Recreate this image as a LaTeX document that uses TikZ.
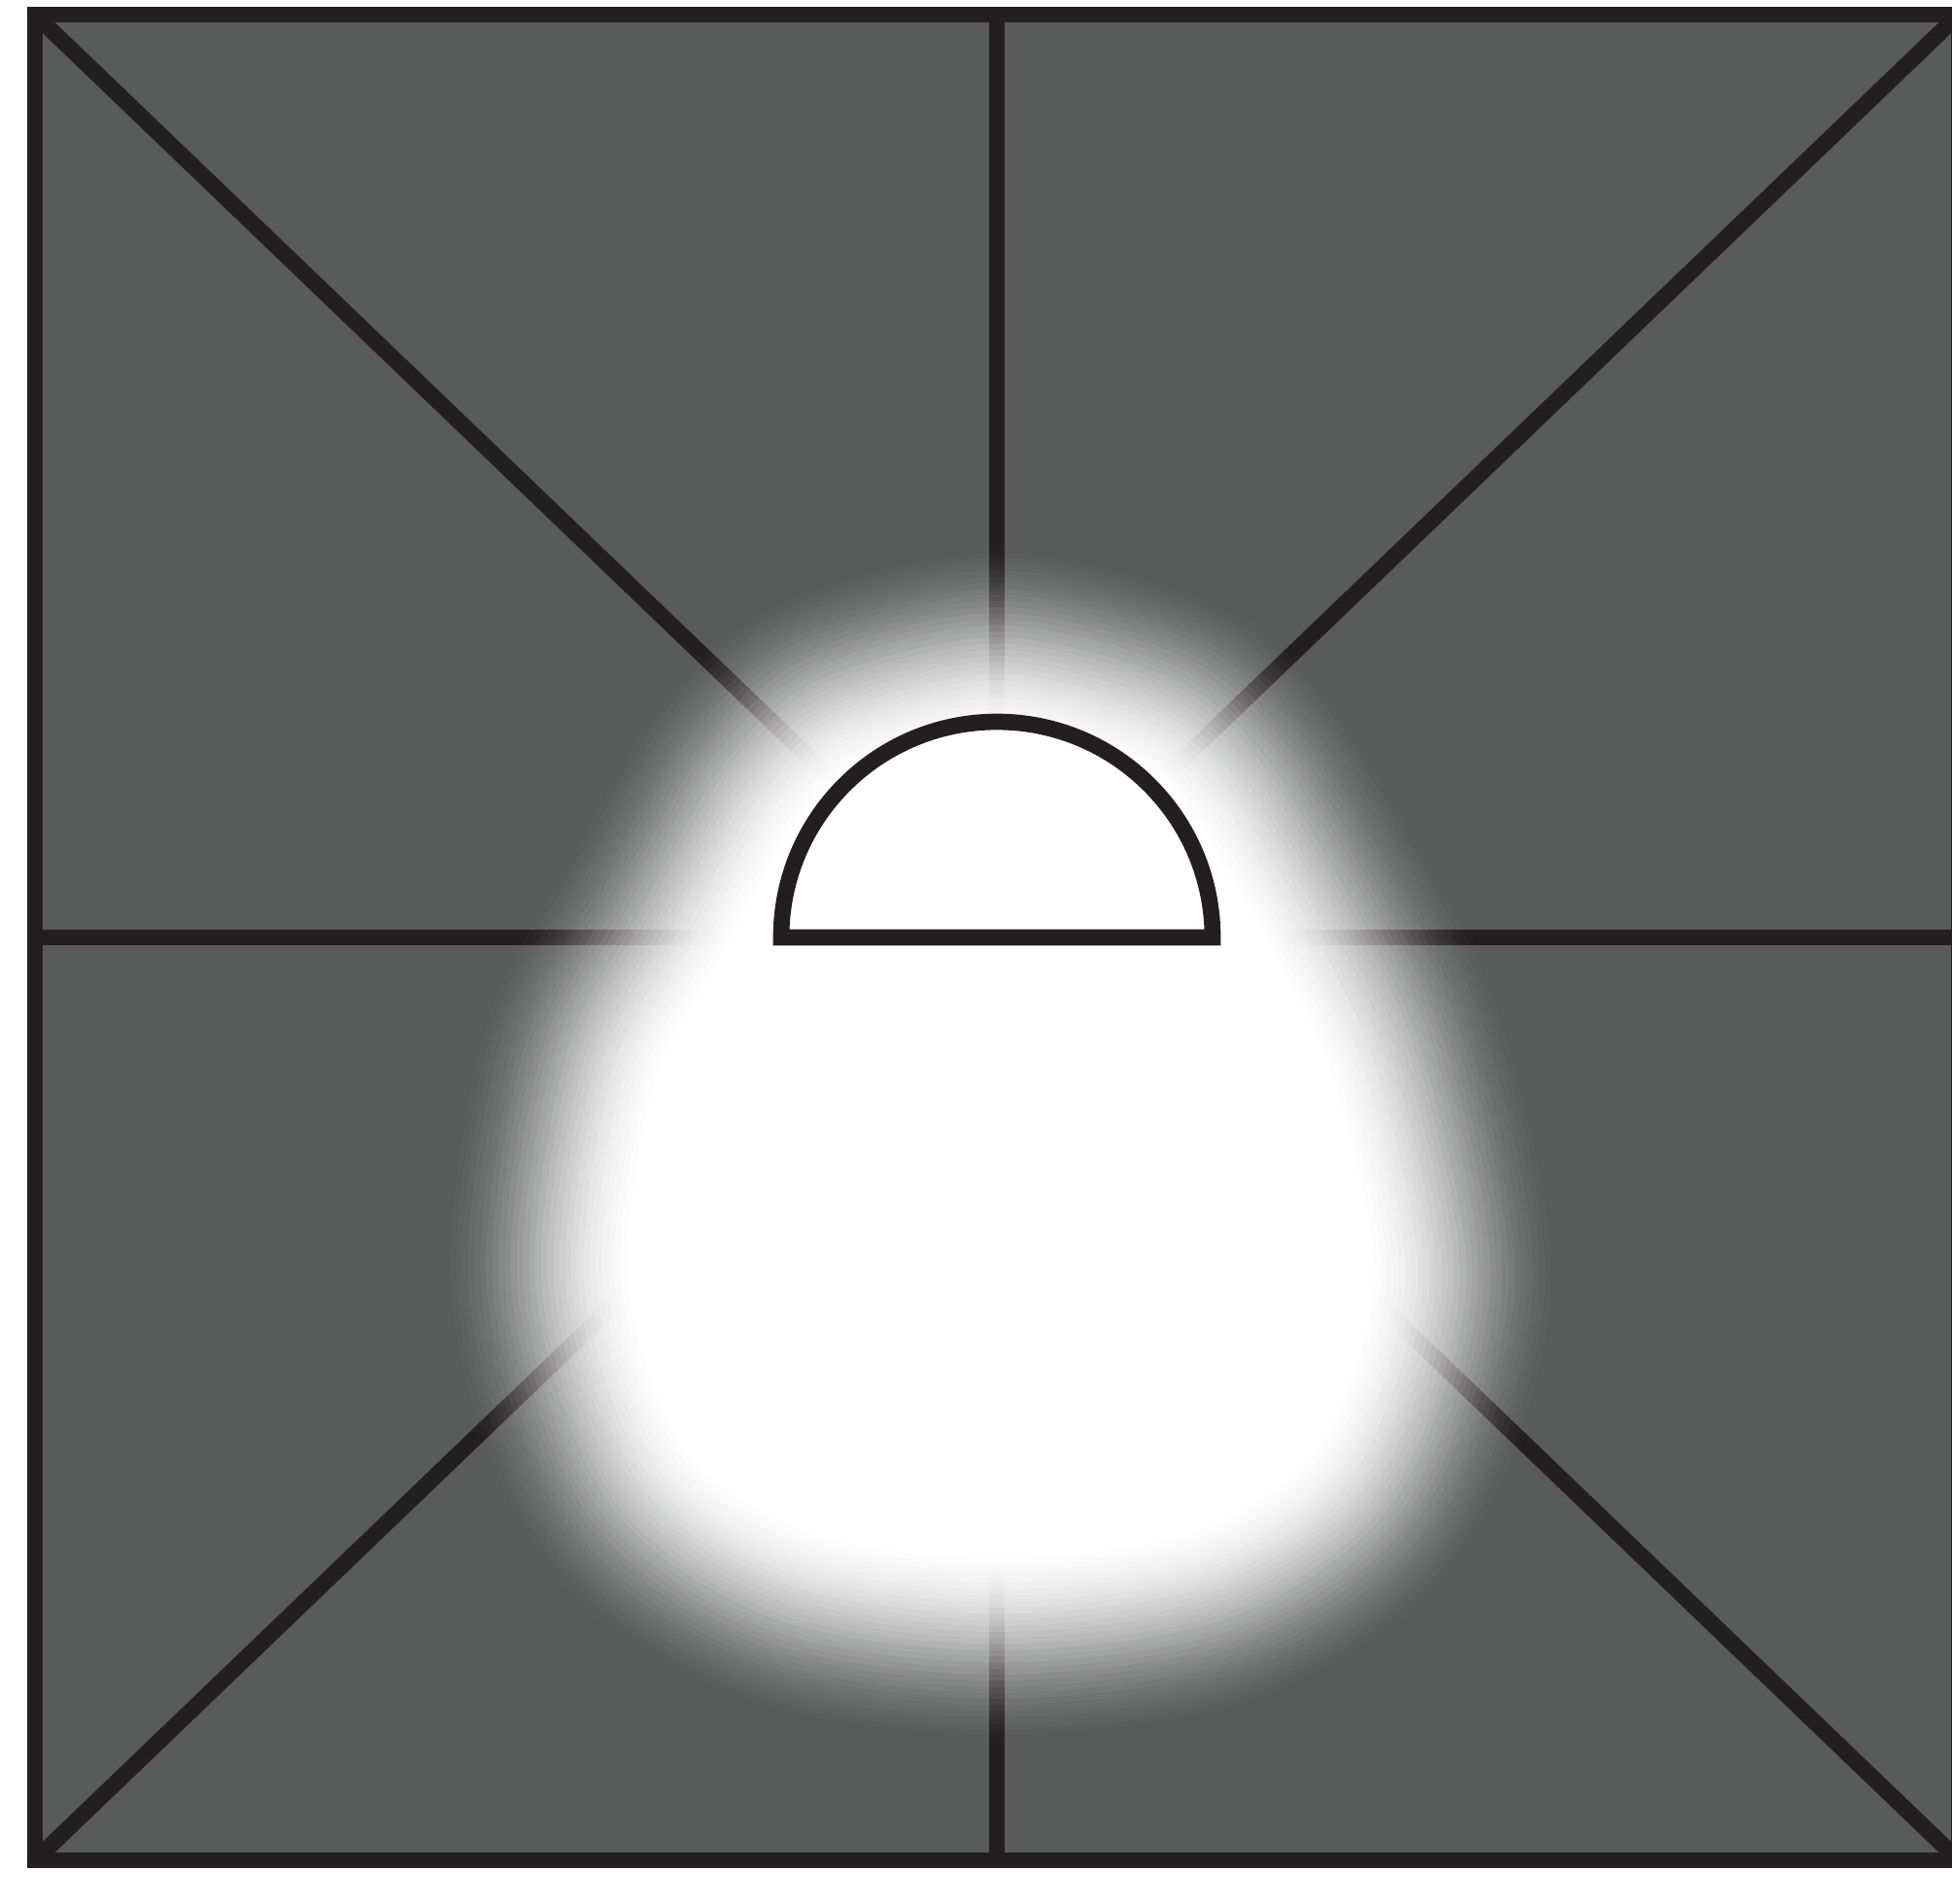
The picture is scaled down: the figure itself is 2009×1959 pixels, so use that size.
\documentclass[tikz,border=0pt]{standalone}
\usepackage{xcolor}
\usepackage{tikz}
\definecolor{wallgray}{RGB}{89,91,90}
\definecolor{inkblack}{RGB}{35,31,32}
\newcommand{\glowpath}{plot[smooth cycle] coordinates {
  (1026,750) (1170,785) (1230,840) (1258,885) (1318,990) (1375,1115)
  (1415,1320) (1355,1495) (1225,1580) (1026,1605) (835,1580) (705,1495)
  (645,1320) (672,1115) (737,990) (794,885) (822,840) (882,785)}}

\begin{document}
\begin{tikzpicture}[x=0.01cm, y=-0.01cm,
    wall/.style={draw=inkblack, line width=1.67mm, line join=miter},
    glowring/.style={draw=white, line join=round},
  ]
  \useasboundingbox (0,0) rectangle (2009,1959);
  \clip (0,0) rectangle (2009,1959);
  \coordinate (nw) at (36,15);
  \coordinate (ne) at (2016,15);
  \coordinate (sw) at (36,1915);
  \coordinate (se) at (2016,1915);
  \coordinate (lamp) at (1026,965);
  \fill[wallgray] (nw) rectangle (se);
  \draw[wall] (nw) -- (se) (ne) -- (sw);
  \draw[wall] (nw -| lamp) -- (sw -| lamp) (nw |- lamp) -- (ne |- lamp);
  \foreach \j in {1,...,32} {
    \pgfmathsetmacro\glowa{(\j-0.5)/32}
    \pgfmathsetmacro\glowb{min((\j+0.5)/32,1)}
    \pgfmathsetmacro\glowop{1-(3*\glowa^2-2*\glowa^3)/(3*\glowb^2-2*\glowb^3)}
    \pgfmathsetmacro\glowlw{\j*200/32*0.2}
    \draw[glowring, draw opacity=\glowop, line width=\glowlw mm] \glowpath;
  }
  \fill[white] \glowpath;
  \draw[wall] (nw) rectangle (se);
  \draw[wall, fill=white] (lamp) ++(-222,0) arc[start angle=180, end angle=360, radius=222] -- cycle;
\end{tikzpicture}
\end{document}
